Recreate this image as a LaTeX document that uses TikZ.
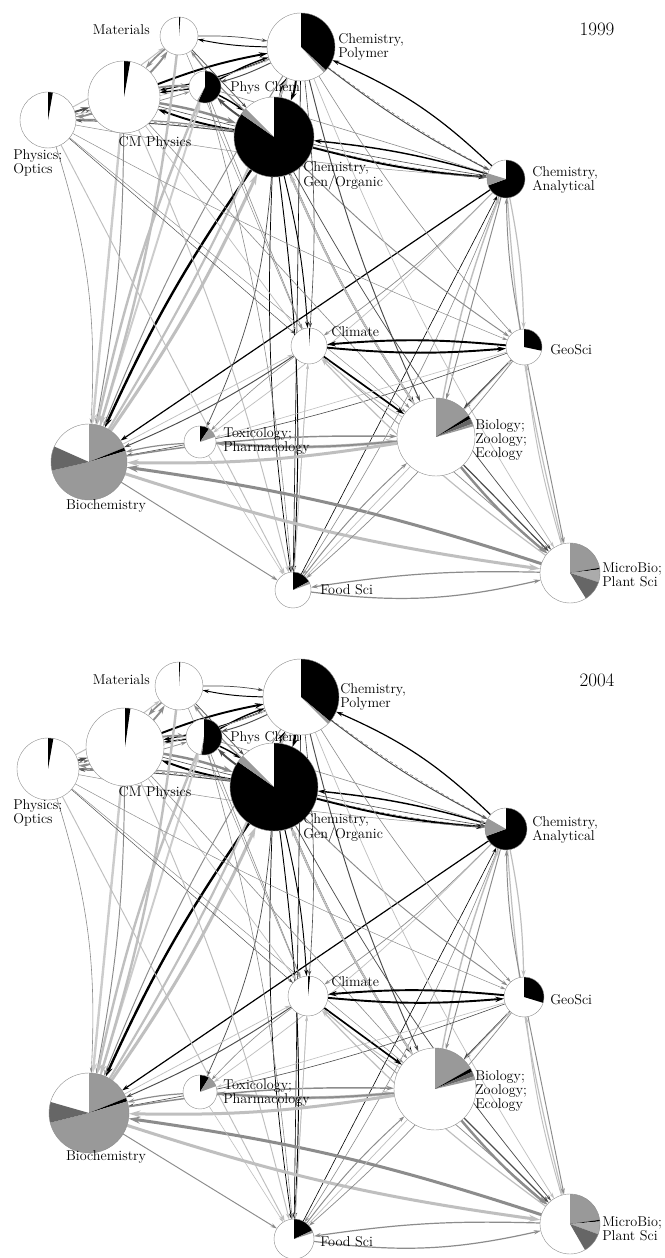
\documentclass[tikz,border=0pt]{standalone}
\usepackage{tikz}
\usetikzlibrary{arrows.meta,backgrounds}

\tikzset{
  pienode/.style={circle,inner sep=0pt,outer sep=0pt,fill=white},
  pieline/.style={draw=black!45,line width=0.4pt},
  edge/.style={-{Stealth[length=4pt 2.5,width=2.4pt 1.5]}},
  txt/.style={font=\fontsize{14.2}{12.5}\selectfont,align=left,inner sep=0pt},
  year/.style={font=\fontsize{19}{20}\selectfont,inner sep=0pt}
}

% name, x, y, radius, slices (from/to/colour, clockwise from the top)
\newcommand{\drawpie}[5]{%
  \node[pienode,minimum size={2*#4pt}] (#1) at (#2,#3) {};
  \foreach \st/\en/\cl in {#5}
    \fill[\cl] (#1.center) -- ++(\st:#4) arc[start angle=\st,end angle=\en,radius=#4] -- cycle;
  \draw[pieline] (#1.center) circle[radius=#4];
}

\begin{document}
\begin{tikzpicture}[x=1pt,y=1pt,line width=0.5pt]
  \begin{scope}[on background layer]
    \fill[white] (0,0) rectangle (664,1258);
  \end{scope}
  \useasboundingbox (0,0) rectangle (664,1258);

  % 1999
  \drawpie{amat}{179}{1222}{19}{90/86/black}
  \drawpie{apol}{301}{1211}{34}{90/-43/black,-43/-48/black!40}
  \drawpie{apch}{205}{1171}{16}{90/-115/black,-115/-120/black!40}
  \drawpie{acmp}{124}{1161}{36}{90/80/black}
  \drawpie{aopt}{48}{1138}{28}{90/80/black}
  \drawpie{aorg}{274}{1121}{40}{90/-215/black,-215/-225/black!40}
  \drawpie{aana}{506}{1079}{19}{90/-160/black,-160/-197/black!40}
  \drawpie{acli}{309}{912}{18}{90/86/black}
  \drawpie{ageo}{524}{911}{18}{90/-12/black}
  \drawpie{atox}{200}{816}{16}{90/56/black,56/19/black!40}
  \drawpie{abio}{436}{821}{39}{90/33/black!40,33/28/black,28/20/black!60,20/16/black!40}
  \drawpie{abch}{89}{796}{38}{90/22/black!40,22/17/black,17/-167/black!40,-167/-204/black!60}
  \drawpie{afood}{293}{668}{18}{90/28/black,28/20/black!40}
  \drawpie{amic}{570}{685}{30}{90/10/black!40,10/7/black,7/-18/black!33,-18/-58/black!60}

  \node[year] (ayear) at (597,1229) {1999};
  \node[txt,anchor=east] (amatl) at (150,1228) {Materials};
  \node[txt,anchor=west] (apoll) at (338,1211) {Chemistry,\\Polymer};
  \node[txt,anchor=west] (apchl) at (230,1170) {Phys Chem};
  \node[txt] (acmpl) at (155,1115) {CM Physics};
  \node[txt,anchor=west] (aoptl) at (13,1095) {Physics;\\Optics};
  \node[txt,anchor=west] (aorgl) at (303,1082) {Chemistry,\\Gen/Organic};
  \node[txt,anchor=west] (aanal) at (532,1078) {Chemistry,\\Analytical};
  \node[txt,anchor=west] (aclil) at (331,926) {Climate};
  \node[txt,anchor=west] (ageol) at (550,908) {GeoSci};
  \node[txt,anchor=west] (atoxl) at (223,817) {Toxicology;\\Pharmacology};
  \node[txt,anchor=west] (abiol) at (475,818) {Biology;\\Zoology;\\Ecology};
  \node[txt] (abchl) at (106,752) {Biochemistry};
  \node[txt,anchor=west] (afoodl) at (320,668) {Food Sci};
  \node[txt,anchor=west] (amicl) at (602,683) {MicroBio;\\Plant Sci};

  % 2004
  \drawpie{bmat}{179}{572}{24}{90/87/black}
  \drawpie{bpol}{301}{561}{38}{90/-40/black,-40/-45/black!40}
  \drawpie{bpch}{204}{521}{18}{90/-97/black,-97/-101/black!40}
  \drawpie{bcmp}{125}{511}{39}{90/82/black}
  \drawpie{bopt}{48}{489}{31}{90/80/black}
  \drawpie{borg}{274}{471}{44}{90/-215/black,-215/-225/black!40}
  \drawpie{bana}{506}{429}{21}{90/-160/black,-160/-210/black!40}
  \drawpie{bcli}{308}{262}{20}{90/84/black}
  \drawpie{bgeo}{524}{261}{20}{90/-17/black}
  \drawpie{btox}{200}{166}{17}{90/58/black,58/20/black!40}
  \drawpie{bbio}{435}{169}{41}{90/30/black!40,30/25/black,25/18/black!60,18/13/black!40}
  \drawpie{bbch}{89}{145}{40}{90/22/black!40,22/17/black,17/-166/black!40,-166/-196/black!60}
  \drawpie{bfood}{294}{19}{20}{90/25/black,25/18/black!40}
  \drawpie{bmic}{570}{34}{30}{90/8/black!40,8/5/black,5/-20/black!33,-20/-60/black!60}

  \node[year] (byear) at (597,578) {2004};
  \node[txt,anchor=east] (bmatl) at (150,578) {Materials};
  \node[txt,anchor=west] (bpoll) at (340,561) {Chemistry,\\Polymer};
  \node[txt,anchor=west] (bpchl) at (230,520) {Phys Chem};
  \node[txt] (bcmpl) at (155,465) {CM Physics};
  \node[txt,anchor=west] (boptl) at (13,445) {Physics;\\Optics};
  \node[txt,anchor=west] (borgl) at (303,430) {Chemistry,\\Gen/Organic};
  \node[txt,anchor=west] (banal) at (532,428) {Chemistry,\\Analytical};
  \node[txt,anchor=west] (bclil) at (331,276) {Climate};
  \node[txt,anchor=west] (bgeol) at (550,258) {GeoSci};
  \node[txt,anchor=west] (btoxl) at (223,165) {Toxicology;\\Pharmacology};
  \node[txt,anchor=west] (bbiol) at (475,167) {Biology;\\Zoology;\\Ecology};
  \node[txt] (bbchl) at (106,101) {Biochemistry};
  \node[txt,anchor=west] (bfoodl) at (320,16) {Food Sci};
  \node[txt,anchor=west] (bmicl) at (602,29) {MicroBio;\\Plant Sci};

  % citation flows, same layout for both years
  \begin{scope}[on background layer]
  \foreach \p in {a,b}
    \foreach \src/\dst/\shade/\wid/\bnd in {
      cmp/pol/100/1.6/5, pol/cmp/100/1.0/5, pol/mat/100/0.8/5, mat/pol/70/0.6/5,
      cmp/mat/45/1.6/-5, mat/cmp/45/1.4/-5, pch/cmp/100/1.2/0, cmp/pch/45/1.6/8,
      pch/pol/100/1.2/5, pol/pch/70/0.8/5, org/cmp/100/1.6/5, cmp/org/45/2.0/5,
      opt/cmp/70/1.6/0, cmp/opt/45/1.4/10, org/opt/70/0.8/-3, opt/org/45/1.0/5,
      org/pol/100/2.0/8, pol/org/100/1.6/8, pch/org/100/1.2/5, org/pch/70/1.6/5,
      opt/mat/25/0.8/-5, opt/pch/45/0.6/-5, mat/org/70/0.6/0, org/mat/45/1.0/5,
      opt/pol/25/0.5/-5,
      ana/pol/100/1.0/-10, pol/ana/70/0.8/-5, org/ana/100/1.6/-5, ana/org/100/1.2/-5,
      pch/ana/45/0.5/0, cmp/ana/70/0.5/-3, opt/ana/45/0.4/-3,
      ana/bch/100/1.0/0, ana/cli/45/0.6/5, ana/geo/25/1.0/5, ana/bio/45/0.8/0,
      ana/mic/25/1.0/-5, ana/food/45/0.5/5, food/ana/100/0.5/0, ana/tox/25/0.6/5,
      geo/ana/45/0.8/5, bio/ana/25/1.2/5,
      org/bch/100/2.0/-5, org/food/100/0.8/5, org/food/100/0.6/-5, org/tox/70/0.6/10,
      org/bio/100/1.4/-5, org/cli/100/0.8/5, org/geo/45/0.8/-5, org/mic/70/0.6/-5,
      bch/org/25/2.5/-5, bio/org/25/1.6/5, bch/pol/25/1.8/-4, bch/pch/20/1.6/0,
      pol/food/100/0.5/0, pol/bio/70/0.8/-5, pol/cli/70/0.5/5, pol/geo/45/0.5/-5,
      pol/bch/45/0.8/-5, pol/mic/25/0.6/-5,
      opt/bch/45/0.5/10, cmp/bch/45/0.8/5, mat/bch/25/2.0/5, pch/bch/25/2.0/-5,
      cmp/bch/20/2.0/0,
      opt/food/25/0.8/0, opt/cli/70/0.4/0, opt/bio/45/0.4/0, cmp/cli/25/0.6/0,
      mat/cli/45/0.4/0, cmp/food/25/0.8/5, opt/geo/45/0.4/-3, pch/food/45/0.5/5,
      cmp/bio/45/0.5/0, pch/cli/45/0.5/0,
      cli/geo/100/1.6/-5, geo/cli/100/1.6/-5, cli/bio/100/1.4/0, geo/bio/70/1.2/0,
      bio/mic/70/1.0/0, bio/mic/45/2.0/-5, geo/mic/45/0.8/0, geo/bch/70/0.5/5,
      cli/bch/70/0.8/5, bch/cli/25/0.6/0, tox/bio/25/2.5/-5, bio/tox/45/1.4/5,
      bch/food/45/0.8/0, bch/mic/25/2.5/-5, mic/bch/45/2.5/-5, bio/bch/25/2.5/5,
      bch/bio/45/1.2/5, food/mic/45/1.0/-10, mic/food/45/1.0/-5, food/bio/45/0.8/5,
      tox/food/25/0.5/0, tox/bch/45/1.0/-5, food/geo/25/0.6/0, cli/mic/45/0.6/0,
      cli/food/25/0.6/0, geo/food/45/0.6/5, mic/geo/25/0.8/5, bio/cli/25/0.8/5,
      food/cli/25/0.5/0, cli/tox/45/0.5/-5, geo/tox/25/0.5/0, mic/cli/25/1.0/5}
      \draw[edge,black!\shade,line width={1.2*\wid pt}] (\p\src) to[bend left=\bnd] (\p\dst);
  \foreach \p in {a,b}
    \foreach \src/\dst in {opt/cmp, org/ana, pol/ana, org/opt}
      \draw[edge,dashed,black!60,line width=0.4pt] (\p\src) to[bend left=-4] (\p\dst);
  \end{scope}
\end{tikzpicture}
\end{document}
